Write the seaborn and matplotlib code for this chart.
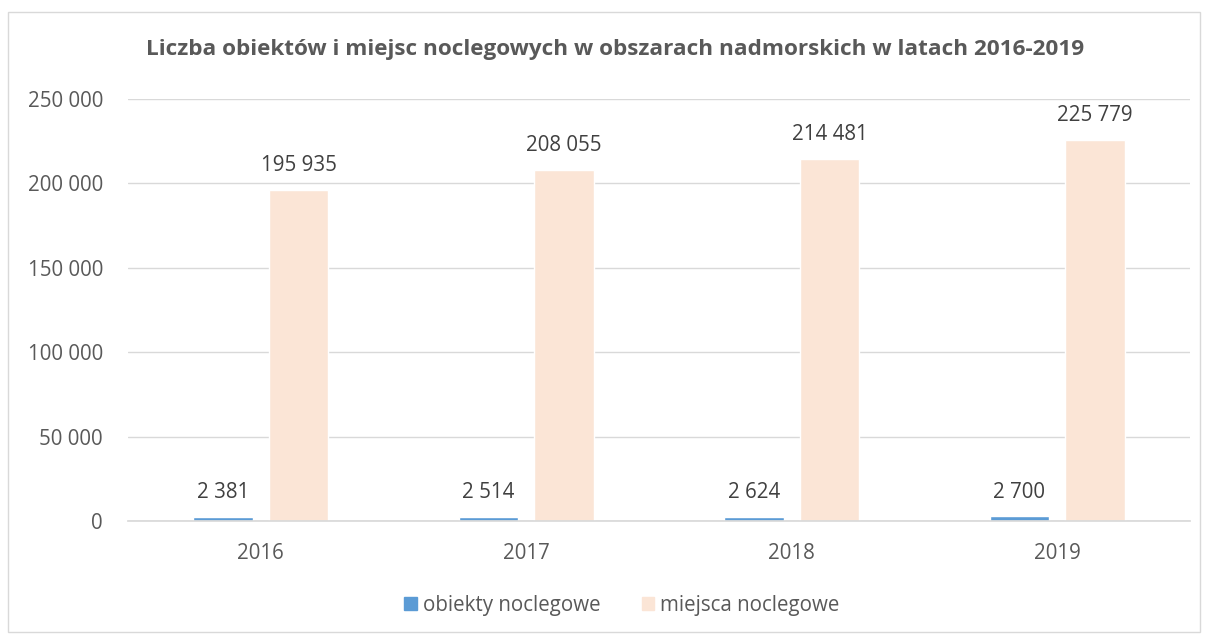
import matplotlib
matplotlib.use("Agg")
import matplotlib.pyplot as plt
import seaborn as sns
import pandas as pd
from matplotlib.patches import Rectangle

years = ["2016", "2017", "2018", "2019"]
obiekty = [2381, 2514, 2624, 2700]
miejsca = [195935, 208055, 214481, 225779]
series_names = ["obiekty noclegowe", "miejsca noclegowe"]
yticks = [0, 50000, 100000, 150000, 200000, 250000]

def fmt(v):
    return f"{v:,}".replace(",", " ")

df = pd.DataFrame({
    "rok": years * 2,
    "wartosc": obiekty + miejsca,
    "seria": [series_names[0]] * 4 + [series_names[1]] * 4,
})

sns.set_theme(style="white")
plt.rcParams["font.family"] = ["Open Sans", "DejaVu Sans"]
txt = "#595959"

fig = plt.figure(figsize=(12.08, 6.36), dpi=100)
ax = fig.add_axes([128 / 1208, 1 - 521 / 636, (1190 - 128) / 1208, (521 - 99) / 636])

sns.barplot(data=df, x="rok", y="wartosc", hue="seria",
            palette=["#5B9BD5", "#FBE5D6"], width=0.57, gap=0.21,
            ax=ax, legend=False, saturation=1)

ax.set_ylim(0, 250000)
ax.set_xlim(-0.5, 3.5)
ax.set_yticks(yticks)
ax.set_yticklabels([fmt(v) for v in yticks], color=txt, fontsize=14.8)
ax.set_xticklabels(years, color=txt, fontsize=14.8)
ax.tick_params(axis="y", length=0, pad=18)
ax.tick_params(axis="x", length=0, pad=16)
ax.yaxis.grid(True, color="#D9D9D9", linewidth=1)
ax.set_axisbelow(True)
for s in ["top", "right", "left"]:
    ax.spines[s].set_visible(False)
ax.spines["bottom"].set_color("#D9D9D9")
ax.set_xlabel("")
ax.set_ylabel("")

for cont in ax.containers:
    for bar in cont:
        h = bar.get_height()
        ax.annotate(fmt(int(round(h))), (bar.get_x() + bar.get_width() / 2, h),
                    xytext=(0, 10), textcoords="offset points",
                    ha="center", va="bottom", color="#404040", fontsize=14.8)

fig.text(615 / 1208, 1 - 50 / 636,
         "Liczba obiektów i miejsc noclegowych w obszarach nadmorskich w latach 2016-2019",
         ha="center", va="center", fontsize=16.2, fontweight="bold", color=txt)

handles = [Rectangle((0, 0), 1, 1, color="#5B9BD5"), Rectangle((0, 0), 1, 1, color="#FBE5D6")]
leg = fig.legend(handles, series_names, loc="center", bbox_to_anchor=(622 / 1208, 1 - 605 / 636),
                 ncol=2, frameon=False, fontsize=14.8, handlelength=0.6, handleheight=0.6,
                 handletextpad=0.3, columnspacing=2.0)
for t in leg.get_texts():
    t.set_color(txt)

fig.patches.append(Rectangle((8 / 1208, 1 - 632 / 636), (1200 - 8) / 1208, (632 - 12) / 636,
                             transform=fig.transFigure, fill=False, edgecolor="#D9D9D9",
                             linewidth=1))

fig.savefig("out.png", dpi=100)
